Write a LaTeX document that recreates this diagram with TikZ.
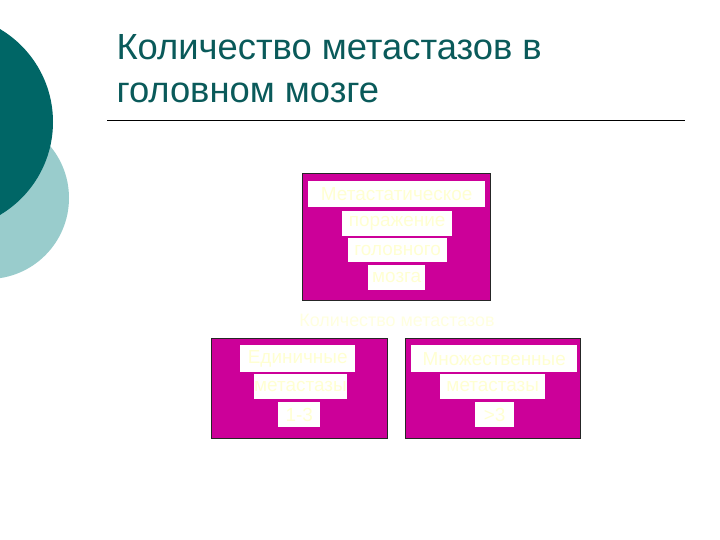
\documentclass[tikz,border=0pt]{standalone}
\usepackage{fontspec}
\setmainfont{Liberation Sans}
\usetikzlibrary{positioning}
\definecolor{darkteal}{RGB}{0,102,102}
\definecolor{paleteal}{RGB}{153,204,204}
\definecolor{titleteal}{RGB}{10,90,90}
\definecolor{boxpink}{RGB}{204,0,153}
\definecolor{cream}{RGB}{255,255,210}

\tikzset{
	panel/.style={draw=black!85, line width=1.3pt, fill=boxpink, anchor=north west, inner sep=0pt},
	wordbox/.style={fill=white, text=cream, font=\fontsize{19}{19}\selectfont, inner sep=0pt, anchor=north west}
}

\begin{document}
\begin{tikzpicture}[x=1bp, y=-1bp]

		\useasboundingbox (0,0) rectangle (720,540);
		\clip (0,0) rectangle (720,540);

		% circles on the left edge
		\fill[paleteal] (-12,198) circle (81);
		\fill[darkteal] (-55,122) circle (108);

		% title and rule
		\node[anchor=base west, text=titleteal, font=\fontsize{36.5}{36.5}\selectfont] (title1) at (113,60) {Количество метастазов в};
		\node[anchor=base west, text=titleteal, font=\fontsize{36.5}{36.5}\selectfont] (title2) at (113,103) {головном мозге};
		\draw[black, line width=0.8pt] (107,120) -- (685,120);

		% top panel
		\node[panel, minimum width=188bp, minimum height=127bp] (total) at (302,173) {};
		\node[wordbox, minimum width=177bp, minimum height=26bp] (total1) at (308,181) {Метастатическое};
		\node[wordbox, minimum width=110bp, minimum height=25bp] (total2) at (342,211) {поражение};
		\node[wordbox, minimum width=99bp, minimum height=24bp] (total3) at (348,238) {головного};
		\node[wordbox, minimum width=57bp, minimum height=25bp] (total4) at (368,265) {мозга};

		% faint caption under the top panel
		\node[text=cream!70!white, font=\fontsize{18}{18}\selectfont] (caption) at (397,320) {Количество метастазов};

		% left panel
		\node[panel, minimum width=176bp, minimum height=100bp] (few) at (211,338) {};
		\node[wordbox, minimum width=115bp, minimum height=27bp] (few1) at (240,345) {Единичные};
		\node[wordbox, minimum width=91bp, minimum height=25bp] (few2) at (254,374) {метастазы};
		\node[wordbox, minimum width=42bp, minimum height=25bp] (few3) at (278,402) {1-3};

		% right panel
		\node[panel, minimum width=175bp, minimum height=100bp] (many) at (405,338) {};
		\node[wordbox, minimum width=166bp, minimum height=27bp] (many1) at (411,345) {Множественные};
		\node[wordbox, minimum width=105bp, minimum height=25bp] (many2) at (440,374) {метастазы};
		\node[wordbox, minimum width=39bp, minimum height=25bp] (many3) at (475,402) {>3};

\end{tikzpicture}
\end{document}
